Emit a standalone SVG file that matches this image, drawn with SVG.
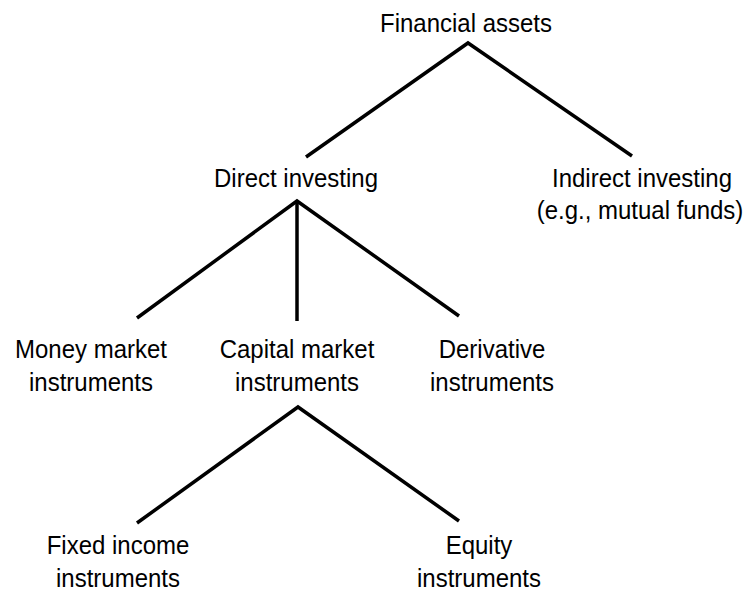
<svg xmlns="http://www.w3.org/2000/svg" width="749" height="592" viewBox="0 0 749 592">
  <style>
    .lbl { font-family: "Liberation Sans", Arial, sans-serif; font-size: 24px; fill: #000; text-anchor: middle; }
    .edge { stroke: #000; stroke-width: 3.5; stroke-linecap: butt; fill: none; }
  </style>
  <rect width="749" height="592" fill="#fff"/>

  <!-- tree branches -->
  <g id="connectors">
    <polyline class="edge" points="306,157 468,43 632,156"/>
    <polyline class="edge" points="137,318 297,201 459,316"/>
    <line class="edge" x1="297" y1="201" x2="297" y2="321"/>
    <polyline class="edge" points="137,523 298,407 459,521"/>
  </g>

  <!-- labels: baseline-anchored, glyphs drawn slightly tall -->
  <g id="financial-assets">
    <text class="lbl" transform="translate(466 32) scale(1 1.1)">Financial assets</text>
  </g>
  <g id="direct-investing">
    <text class="lbl" transform="translate(296 187) scale(1 1.1)">Direct investing</text>
  </g>
  <g id="indirect-investing">
    <text class="lbl" transform="translate(642 187) scale(1 1.1)">Indirect investing</text>
    <text class="lbl" transform="translate(640 219) scale(1 1.1)">(e.g., mutual funds)</text>
  </g>
  <g id="money-market">
    <text class="lbl" transform="translate(91 358) scale(1 1.1)">Money market</text>
    <text class="lbl" transform="translate(91 391) scale(1 1.1)">instruments</text>
  </g>
  <g id="capital-market">
    <text class="lbl" transform="translate(297 358) scale(1 1.1)">Capital market</text>
    <text class="lbl" transform="translate(297 391) scale(1 1.1)">instruments</text>
  </g>
  <g id="derivative">
    <text class="lbl" transform="translate(492 358) scale(1 1.1)">Derivative</text>
    <text class="lbl" transform="translate(492 391) scale(1 1.1)">instruments</text>
  </g>
  <g id="fixed-income">
    <text class="lbl" transform="translate(118 554) scale(1 1.1)">Fixed income</text>
    <text class="lbl" transform="translate(118 587) scale(1 1.1)">instruments</text>
  </g>
  <g id="equity">
    <text class="lbl" transform="translate(479 554) scale(1 1.1)">Equity</text>
    <text class="lbl" transform="translate(479 587) scale(1 1.1)">instruments</text>
  </g>
</svg>
